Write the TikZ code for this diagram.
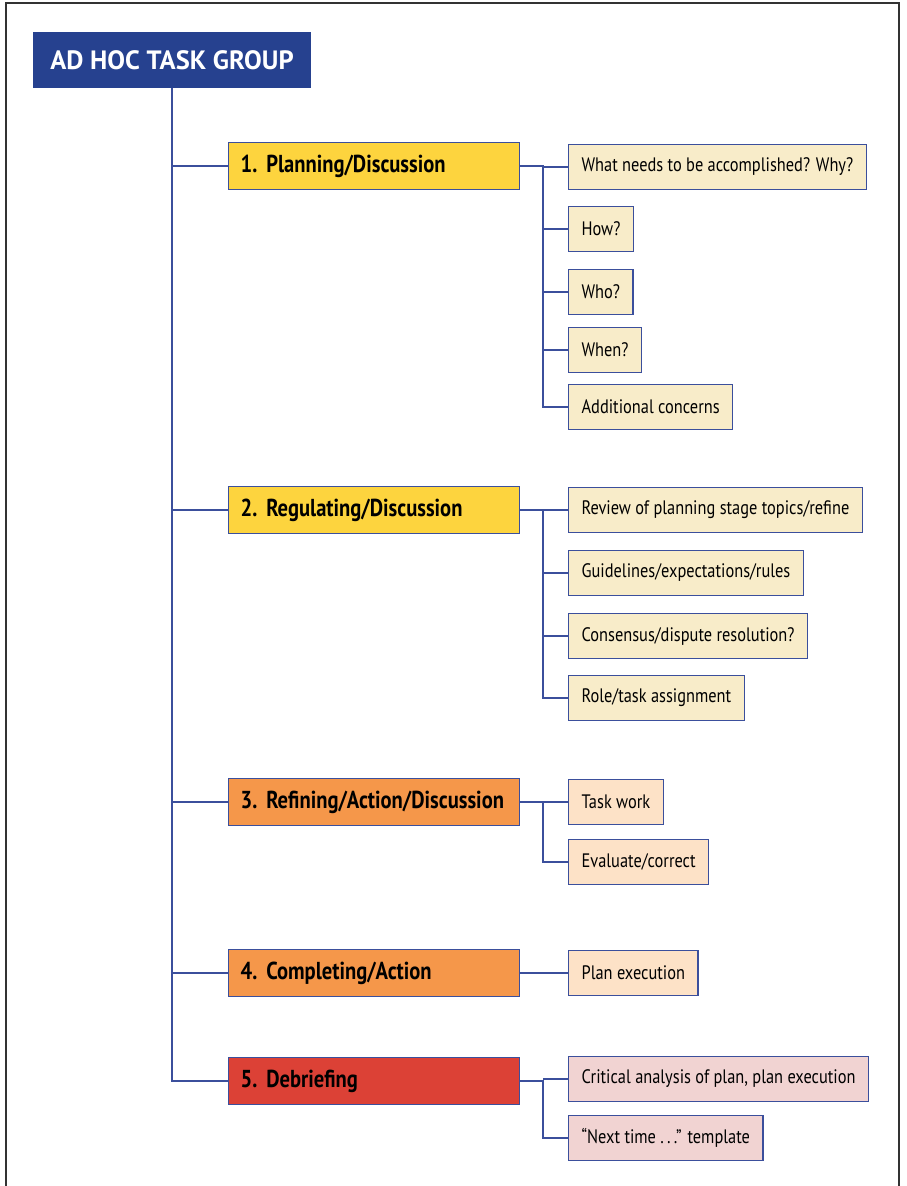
\documentclass[tikz,border=0pt]{standalone}
\usepackage{fontspec}
\setmainfont{PT Sans}
\newfontfamily\condfont[FakeStretch=0.84]{PT Sans}
\usetikzlibrary{positioning}
\definecolor{headblue}{HTML}{26418F}
\definecolor{linkblue}{HTML}{3B4F9C}
\definecolor{stageyellow}{HTML}{FDD43E}
\definecolor{stageorange}{HTML}{F5974A}
\definecolor{stagered}{HTML}{DC4136}
\definecolor{subyellow}{HTML}{F8ECC9}
\definecolor{suborange}{HTML}{FDE2C7}
\definecolor{subpink}{HTML}{F1D3D2}

\begin{document}
\begin{tikzpicture}[x=1pt, y=-1pt,
    link/.style={draw=linkblue, line width=1.2pt},
    stage/.style={draw=linkblue, line width=1.2pt, anchor=west, minimum width=291pt,
        minimum height=47pt, inner xsep=12pt, text width=267pt, align=left,
        font=\condfont\fontsize{24.5}{27}\selectfont\bfseries},
    item/.style={draw=linkblue, line width=1.2pt, anchor=west, minimum height=45pt,
        inner xsep=13pt, font=\condfont\fontsize{19.5}{22}\selectfont}]
    \useasboundingbox (0,0) rectangle (906,1186);

    % Frame
    \draw[line width=1.4pt, black!80] (6,1186) -- (6,3) -- (899,3) -- (899,1186);

    % Head
    \node[fill=headblue, minimum width=278pt, minimum height=56pt, text=white,
        font=\fontsize{26.5}{29}\selectfont\bfseries] (head) at (172,60) {AD HOC TASK GROUP};

    % Stages
    \node[stage, fill=stageyellow] (s1) at (228,166) {1.\hspace{9pt}Planning/Discussion};
    \node[stage, fill=stageyellow] (s2) at (228,510) {2.\hspace{9pt}Regulating/Discussion};
    \node[stage, fill=stageorange] (s3) at (228,802) {3.\hspace{9pt}Refining/Action/Discussion};
    \node[stage, fill=stageorange] (s4) at (228,973) {4.\hspace{9pt}Completing/Action};
    \node[stage, fill=stagered]    (s5) at (228,1081) {5.\hspace{9pt}Debriefing};

    % Items of stage 1
    \node[item, fill=subyellow] (s1a) at (568,167) {What needs to be accomplished? Why?};
    \node[item, fill=subyellow] (s1b) at (568,229) {How?};
    \node[item, fill=subyellow] (s1c) at (568,292) {Who?};
    \node[item, fill=subyellow] (s1d) at (568,350) {When?};
    \node[item, fill=subyellow] (s1e) at (568,407) {Additional concerns};

    % Items of stage 2
    \node[item, fill=subyellow] (s2a) at (568,510) {Review of planning stage topics/refine};
    \node[item, fill=subyellow] (s2b) at (568,573) {Guidelines/expectations/rules};
    \node[item, fill=subyellow] (s2c) at (568,636) {Consensus/dispute resolution?};
    \node[item, fill=subyellow] (s2d) at (568,698) {Role/task assignment};

    % Items of stages 3, 4, 5
    \node[item, fill=suborange] (s3a) at (568,802) {Task work};
    \node[item, fill=suborange] (s3b) at (568,862) {Evaluate/correct};
    \node[item, fill=suborange] (s4a) at (568,973) {Plan execution};
    \node[item, fill=subpink]   (s5a) at (568,1079) {Critical analysis of plan, plan execution};
    \node[item, fill=subpink]   (s5b) at (568,1138) {“Next time .\,.\,.” template};

    % Trunk
    \draw[link] (head.south) |- (s5.west);
    \foreach \s in {s1,s2,s3,s4}
        \draw[link] (head.south |- \s.west) -- (\s.west);

    % Branches
    \foreach \s/\last in {s1/s1e, s2/s2d, s3/s3b, s4/s4a, s5/s5b} {
        \coordinate (\s j) at (543,0);
        \draw[link] (\s.east) -- (\s.east -| \s j) |- (\last.west);
    }
    \foreach \i in {s1a,s1b,s1c,s1d,s2a,s2b,s2c,s3a,s5a}
        \draw[link] (\i.west) -- (\i.west -| 543,0);
\end{tikzpicture}
\end{document}
